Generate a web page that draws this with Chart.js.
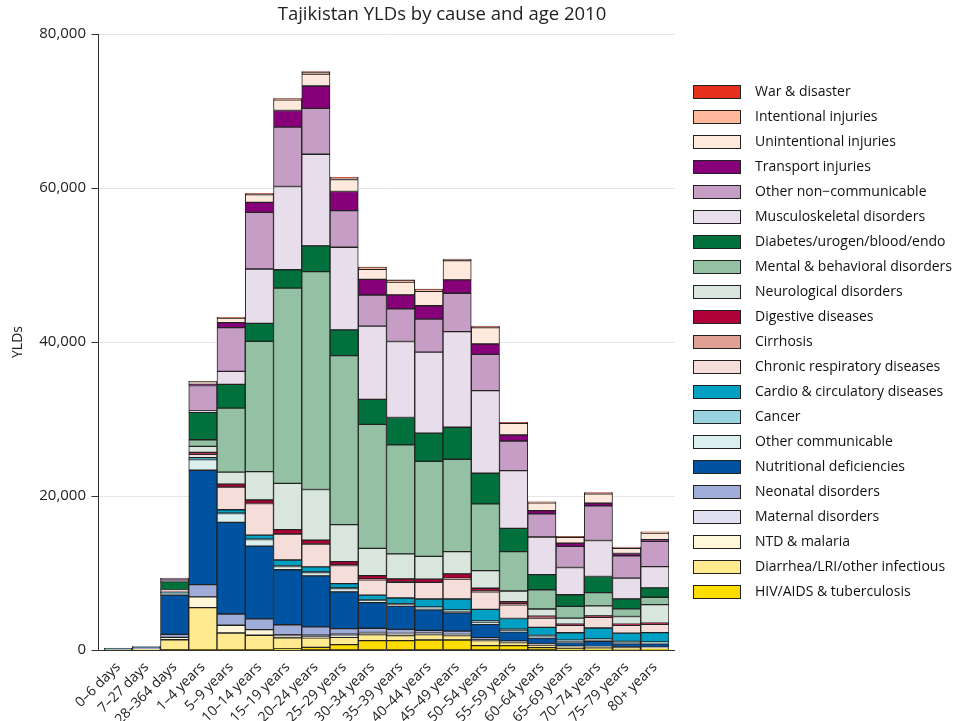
<!DOCTYPE html>
<html>
<head>
<meta charset="utf-8">
<script src="https://cdn.jsdelivr.net/npm/chart.js@4.4.1/dist/chart.umd.min.js"></script>
<style>
  html, body { margin: 0; padding: 0; background: #fff; }
  #wrap { width: 965px; height: 721px; }
</style>
</head>
<body>
<div id="wrap"><canvas id="yldChart" width="965" height="721"></canvas></div>
<script>
// age groups along the x axis
const ageGroups = ['0–6 days', '7–27 days', '28–364 days', '1–4 years', '5–9 years', '10–14 years',
  '15–19 years', '20–24 years', '25–29 years', '30–34 years', '35–39 years', '40–44 years',
  '45–49 years', '50–54 years', '55–59 years', '60–64 years', '65–69 years', '70–74 years',
  '75–79 years', '80+ years'];

const yTicks = [0, 20000, 40000, 60000, 80000];

// YLDs per cause, stacked bottom -> top
const hivTb        = [0, 0, 30, 50, 50, 50, 150, 350, 690, 1210, 1210, 1300, 1300, 560, 560, 300, 180, 150, 130, 80];
const diarrheaLri  = [40, 80, 1300, 5450, 2160, 1860, 1430, 1220, 950, 780, 650, 690, 560, 650, 390, 350, 200, 200, 170, 200];
const ntdMalaria   = [0, 20, 300, 1390, 1000, 740, 300, 150, 200, 130, 200, 150, 150, 100, 80, 60, 50, 50, 40, 40];
const maternal     = [0, 0, 0, 0, 0, 0, 100, 200, 200, 150, 100, 50, 20, 0, 0, 0, 0, 0, 0, 0];
const neonatal     = [100, 150, 400, 1600, 1470, 1390, 1300, 1080, 740, 560, 520, 350, 430, 300, 150, 100, 60, 60, 50, 40];
const nutritional  = [30, 60, 5100, 14850, 11900, 9440, 7140, 6620, 4760, 3330, 3030, 2680, 2380, 1730, 1170, 740, 480, 650, 430, 430];
const otherComm    = [20, 40, 300, 1390, 1150, 870, 430, 430, 430, 260, 200, 260, 200, 180, 150, 150, 120, 120, 100, 100];
const cancer       = [0, 0, 20, 50, 50, 50, 100, 100, 100, 100, 100, 100, 150, 250, 200, 200, 200, 200, 200, 150];
const cardio       = [0, 0, 50, 200, 430, 520, 740, 650, 560, 610, 740, 1040, 1430, 1510, 1390, 1040, 950, 1430, 1080, 1210];
const chronicResp  = [0, 20, 100, 430, 2950, 4110, 3380, 2940, 2340, 1990, 2030, 2160, 2600, 2290, 1780, 1210, 950, 1390, 1000, 1080];
const cirrhosis    = [0, 0, 0, 0, 0, 20, 0, 50, 80, 100, 100, 0, 100, 150, 100, 80, 60, 60, 50, 50];
const digestive    = [0, 0, 30, 250, 390, 430, 560, 480, 430, 430, 350, 430, 560, 300, 300, 150, 120, 120, 100, 100];
const neuro        = [0, 0, 150, 780, 1560, 3680, 6010, 6580, 4810, 3550, 3250, 2940, 2900, 2290, 1390, 950, 780, 1300, 1000, 2420];
const mental       = [0, 0, 50, 870, 8310, 16920, 25360, 28300, 21950, 16100, 14160, 12340, 11990, 8660, 5110, 2500, 1510, 1730, 1000, 950];
const diabetes     = [30, 40, 1050, 3550, 3070, 2340, 2380, 3330, 3330, 3250, 3550, 3680, 4160, 3980, 3030, 1950, 1510, 2080, 1300, 1210];
const musculo      = [0, 0, 50, 200, 1690, 7060, 10820, 11900, 10740, 9520, 9870, 10520, 12420, 10740, 7490, 4900, 3550, 4680, 2680, 2770];
const otherNcd     = [30, 40, 300, 3290, 5680, 7360, 7700, 5970, 4760, 4030, 4240, 4290, 4980, 4710, 3850, 2990, 2730, 4500, 2900, 3290];
const transport    = [0, 0, 10, 150, 650, 1300, 2160, 2900, 2470, 2030, 1820, 1730, 1730, 1340, 780, 430, 430, 350, 300, 200];
const unintentional= [0, 0, 100, 350, 600, 1000, 1390, 1560, 1560, 1300, 1650, 1860, 2510, 2120, 1510, 1000, 740, 1210, 690, 870];
const intentional  = [0, 0, 0, 20, 50, 100, 120, 200, 200, 200, 200, 200, 150, 150, 100, 100, 100, 100, 100, 100];
const warDisaster  = [0, 0, 0, 10, 30, 50, 50, 100, 100, 100, 100, 100, 50, 50, 50, 50, 50, 50, 50, 50];

const series = [
  ['HIV/AIDS & tuberculosis', hivTb, '#FFDD00'],
  ['Diarrhea/LRI/other infectious', diarrheaLri, '#FFEA8F'],
  ['NTD & malaria', ntdMalaria, '#FFF7DA'],
  ['Maternal disorders', maternal, '#E1E0F0'],
  ['Neonatal disorders', neonatal, '#A0ACD8'],
  ['Nutritional deficiencies', nutritional, '#0053A0'],
  ['Other communicable', otherComm, '#DCEFEF'],
  ['Cancer', cancer, '#9AD3E0'],
  ['Cardio & circulatory diseases', cardio, '#00A0C4'],
  ['Chronic respiratory diseases', chronicResp, '#F5DEDA'],
  ['Cirrhosis', cirrhosis, '#E0A093'],
  ['Digestive diseases', digestive, '#B0003A'],
  ['Neurological disorders', neuro, '#D8E6DE'],
  ['Mental & behavioral disorders', mental, '#94C0A4'],
  ['Diabetes/urogen/blood/endo', diabetes, '#00703C'],
  ['Musculoskeletal disorders', musculo, '#E8DDEA'],
  ['Other non−communicable', otherNcd, '#C59DC5'],
  ['Transport injuries', transport, '#87007A'],
  ['Unintentional injuries', unintentional, '#FFE8DC'],
  ['Intentional injuries', intentional, '#FFB899'],
  ['War & disaster', warDisaster, '#E8301E']
];

Chart.defaults.font.family = '"Open Sans", "Noto Sans", sans-serif';
Chart.defaults.color = '#222';

// legend swatch 48x14, drawn as a point style so the text sits a bit further right
function swatch(color) {
  const c = document.createElement('canvas');
  c.width = 48;
  c.height = 14;
  const g = c.getContext('2d');
  g.fillStyle = color;
  g.fillRect(0, 0, 48, 14);
  g.strokeStyle = '#222';
  g.lineWidth = 1;
  g.strokeRect(0.5, 0.5, 47, 13);
  return c;
}
const swatches = series.map(s => swatch(s[2]));

// axis lines + grid drawn a few px outside the bars, and the title
const axisFrame = {
  id: 'axisFrame',
  beforeDatasetsDraw(chart) {
    const { ctx, chartArea, scales: { y } } = chart;
    ctx.save();
    ctx.strokeStyle = '#e6e6e6';
    ctx.lineWidth = 1;
    yTicks.slice(1).forEach(v => {
      const py = Math.round(y.getPixelForValue(v)) + 0.5;
      ctx.beginPath();
      ctx.moveTo(chartArea.left - 6, py);
      ctx.lineTo(chartArea.right + 6, py);
      ctx.stroke();
    });
    ctx.restore();
  },
  afterDatasetsDraw(chart) {
    const { ctx, chartArea, scales: { y } } = chart;
    const ax = chartArea.left - 6 + 0.5;
    ctx.save();
    ctx.strokeStyle = '#333';
    ctx.lineWidth = 1;
    ctx.beginPath();
    ctx.moveTo(ax, chartArea.top);
    ctx.lineTo(ax, chartArea.bottom + 0.5);
    ctx.lineTo(chartArea.right + 6, chartArea.bottom + 0.5);
    yTicks.forEach(v => {
      const py = Math.round(y.getPixelForValue(v)) + 0.5;
      ctx.moveTo(ax - 7, py);
      ctx.lineTo(ax, py);
    });
    ctx.stroke();
    ctx.restore();
  },
  afterDraw(chart) {
    const ctx = chart.ctx;
    ctx.save();
    ctx.font = '18.5px "Open Sans", "Noto Sans", sans-serif';
    ctx.fillStyle = '#222';
    ctx.textAlign = 'center';
    ctx.textBaseline = 'middle';
    ctx.fillText('Tajikistan YLDs by cause and age 2010', 442, 15);
    ctx.restore();
  }
};

new Chart(document.getElementById('yldChart'), {
  type: 'bar',
  data: {
    labels: ageGroups,
    datasets: series.map(([label, data, color]) => ({
      label,
      data,
      backgroundColor: color,
      borderColor: '#222',
      borderWidth: 1,
      borderSkipped: false,
      barPercentage: 1,
      categoryPercentage: 1
    }))
  },
  options: {
    responsive: false,
    animation: false,
    layout: { padding: { top: 34, right: 10, bottom: 0, left: 0 } },
    scales: {
      x: {
        stacked: true,
        grid: { display: false },
        border: { display: false },
        ticks: { font: { size: 14 }, minRotation: 45, maxRotation: 45, padding: 1, autoSkip: false },
        afterFit(scale) { scale.height = 71; }
      },
      y: {
        stacked: true,
        min: 0,
        max: 80000,
        grid: { display: false, drawTicks: false },
        border: { display: false },
        ticks: {
          stepSize: 20000,
          padding: 18,
          font: { size: 15 },
          callback: v => v.toLocaleString('en-US')
        },
        title: { display: true, text: 'YLDs', font: { size: 14 }, padding: { top: 10, bottom: 4 } },
        afterFit(scale) { scale.width = 104; }
      },
      gap: {
        position: 'right',
        display: true,
        grid: { display: false, drawTicks: false },
        border: { display: false },
        ticks: { display: false },
        afterFit(scale) { scale.width = 6; }
      }
    },
    plugins: {
      legend: {
        position: 'right',
        fullSize: false,
        reverse: true,
        maxWidth: 280,
        labels: {
          usePointStyle: true,
          pointStyleWidth: 62,
          boxHeight: 14,
          padding: 11,
          color: '#111',
          font: { size: 14 },
          generateLabels(chart) {
            return Chart.defaults.plugins.legend.labels.generateLabels(chart)
              .map(item => ({ ...item, pointStyle: swatches[item.datasetIndex] }));
          }
        }
      },
      title: { display: false },
      tooltip: { enabled: false }
    }
  },
  plugins: [axisFrame]
});
</script>
</body>
</html>
